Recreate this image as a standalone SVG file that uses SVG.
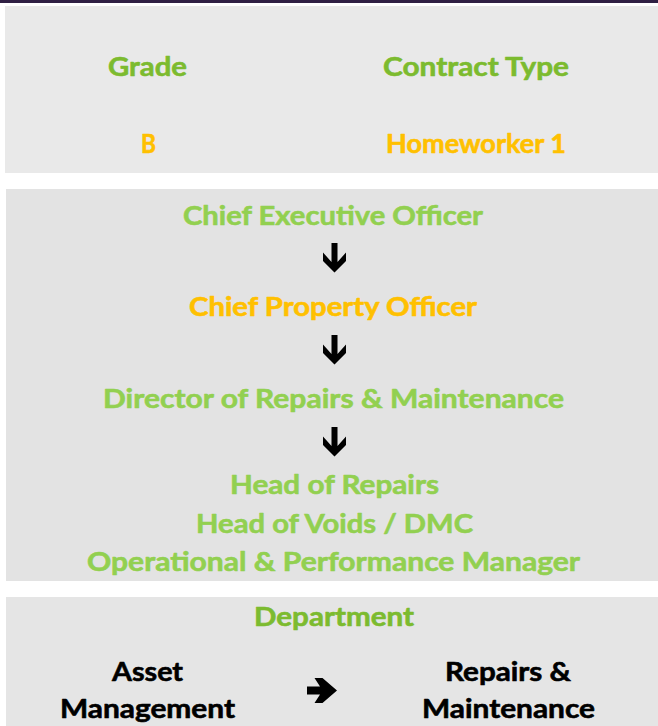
<svg xmlns="http://www.w3.org/2000/svg" width="658" height="726" viewBox="0 0 658 726">
  <style>
    text { font-family: Lato, "Open Sans", "Liberation Sans", sans-serif; font-weight: bold; text-anchor: middle; stroke-width: 0.6px; stroke-linejoin: round; }
    .hd { fill: #7cbb2f; stroke: #7cbb2f; font-size: 27px; }
    .val { fill: #ffc000; stroke: #ffc000; font-size: 26px; }
    .role { fill: #92d050; stroke: #92d050; font-size: 27px; }
    .roleHi { fill: #ffc000; stroke: #ffc000; font-size: 27px; }
    .dept { fill: #000000; stroke: #000000; font-size: 27px; }
    .arrow { fill: #000000; }
  </style>
  <defs>
    <!-- down arrow glyph, origin at shaft top centre -->
    <polygon id="down" points="-3,0 3,0 3,19 11.5,9.5 11.5,18 0,29.5 -11.5,18 -11.5,9.5 -3,19"/>
  </defs>

  <rect x="0" y="0" width="658" height="3" fill="#2f1f43"/>

  <!-- grade / contract panel -->
  <g id="panel-grade">
    <rect x="5" y="6" width="653" height="167" fill="#e9e9e9"/>
    <text class="hd" x="147.5" y="76" textLength="79" lengthAdjust="spacingAndGlyphs">Grade</text>
    <text class="val" x="148.5" y="153" textLength="15" lengthAdjust="spacingAndGlyphs">B</text>
  </g>
  <g id="panel-contract">
    <text class="hd" x="476" y="76" textLength="186" lengthAdjust="spacingAndGlyphs">Contract Type</text>
    <text class="val" x="476" y="153" textLength="180" lengthAdjust="spacingAndGlyphs">Homeworker 1</text>
  </g>

  <!-- reporting line panel -->
  <rect x="6" y="189" width="652" height="392" fill="#e3e3e3"/>
  <g id="ceo">
    <text class="role" x="333" y="225" textLength="300" lengthAdjust="spacingAndGlyphs">Chief Executive Officer</text>
  </g>
  <g id="cpo">
    <text class="roleHi" x="333" y="316" textLength="288" lengthAdjust="spacingAndGlyphs">Chief Property Officer</text>
  </g>
  <g id="director">
    <text class="role" x="333.5" y="408" textLength="461" lengthAdjust="spacingAndGlyphs">Director of Repairs &amp; Maintenance</text>
  </g>
  <g id="heads">
    <text class="role" x="334.5" y="494" textLength="209" lengthAdjust="spacingAndGlyphs">Head of Repairs</text>
    <text class="role" x="334.5" y="533" textLength="277" lengthAdjust="spacingAndGlyphs">Head of Voids / DMC</text>
    <text class="role" x="333.5" y="571" textLength="493" lengthAdjust="spacingAndGlyphs">Operational &amp; Performance Manager</text>
  </g>

  <!-- department panel -->
  <rect x="6" y="597" width="652" height="129" fill="#e5e5e5"/>
  <g id="department">
    <text class="hd" x="334" y="626" textLength="160" lengthAdjust="spacingAndGlyphs">Department</text>
  </g>
  <g id="dept-from">
    <text class="dept" x="147.5" y="681" textLength="71" lengthAdjust="spacingAndGlyphs">Asset</text>
    <text class="dept" x="147.5" y="718" textLength="175" lengthAdjust="spacingAndGlyphs">Management</text>
  </g>
  <g id="dept-to">
    <text class="dept" x="508" y="681" textLength="126" lengthAdjust="spacingAndGlyphs">Repairs &amp;</text>
    <text class="dept" x="508.5" y="718" textLength="173" lengthAdjust="spacingAndGlyphs">Maintenance</text>
  </g>

  <!-- connectors -->
  <g id="connectors" class="arrow">
    <use href="#down" x="334.5" y="243"/>
    <use href="#down" x="334.5" y="335"/>
    <use href="#down" x="334.5" y="427"/>
    <polygon points="307,686.5 320,686.5 314.5,678 322.5,678 337,690.5 322.5,703 314.5,703 320,694.5 307,694.5"/>
  </g>
</svg>
